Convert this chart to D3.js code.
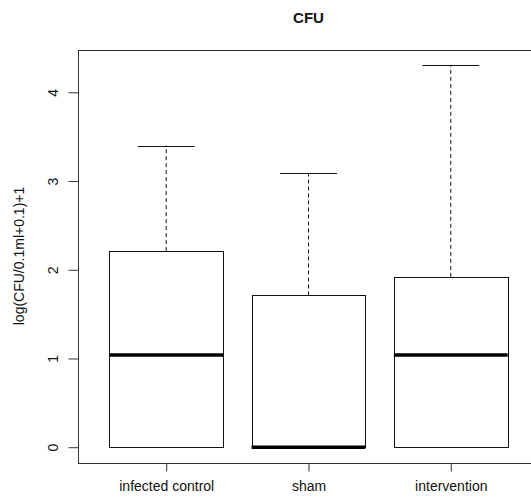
<!DOCTYPE html>
<html>
<head>
<meta charset="utf-8">
<script src="https://cdn.jsdelivr.net/npm/d3@7"></script>
<style>
  html, body { margin: 0; padding: 0; background: #fff; }
  svg { display: block; font-family: "Liberation Sans", Arial, sans-serif; }
</style>
</head>
<body>
<svg id="chart" width="531" height="497"></svg>
<script>
// Groups and five-number summaries of log(CFU/0.1ml+0.1)+1
const categories = ["infected control", "sham", "intervention"];
const whiskerLow = [0, 0, 0];
const quartile1  = [0, 0, 0];
const medians    = [1.04, 0, 1.04];
const quartile3  = [2.21, 1.71, 1.92];
const whiskerHigh = [3.40, 3.09, 4.31];
const yTicks = [0, 1, 2, 3, 4];
const titleText = "CFU";
const yLabel = "log(CFU/0.1ml+0.1)+1";

const svg = d3.select("#chart");
const plot = { left: 78, right: 539, top: 49.5, bottom: 462.5 };

// base-graphics style ranges: 4% padding on both axes
const xLo = 0.5, xHi = categories.length + 0.5;
const xPad = (xHi - xLo) * 0.04;
const x = d3.scaleLinear().domain([xLo - xPad, xHi + xPad]).range([plot.left, plot.right]);

const yMin = d3.min(whiskerLow), yMax = d3.max(whiskerHigh);
const yPad = (yMax - yMin) * 0.04;
const y = d3.scaleLinear().domain([yMin - yPad, yMax + yPad]).range([plot.bottom, plot.top]);

const boxes = categories.map((c, i) => ({
  name: c, pos: i + 1,
  lo: whiskerLow[i], q1: quartile1[i], med: medians[i], q3: quartile3[i], hi: whiskerHigh[i]
}));

const halfBox = 0.4, halfCap = 0.2;
const ink = "#111";

const g = svg.append("g");

// whiskers (dashed) and staples
boxes.forEach(b => {
  const gb = g.append("g");
  gb.append("line")
    .attr("x1", x(b.pos)).attr("x2", x(b.pos))
    .attr("y1", y(b.q3)).attr("y2", y(b.hi))
    .attr("stroke", ink).attr("stroke-width", 1).attr("stroke-dasharray", "4,3");
  gb.append("line")
    .attr("x1", x(b.pos)).attr("x2", x(b.pos))
    .attr("y1", y(b.q1)).attr("y2", y(b.lo))
    .attr("stroke", ink).attr("stroke-width", 1).attr("stroke-dasharray", "4,3");
  [b.hi, b.lo].forEach(v => {
    gb.append("line")
      .attr("x1", x(b.pos - halfCap)).attr("x2", x(b.pos + halfCap))
      .attr("y1", Math.round(y(v)) + 0.5).attr("y2", Math.round(y(v)) + 0.5)
      .attr("stroke", ink).attr("stroke-width", 1);
  });
  // box
  gb.append("rect")
    .attr("x", Math.round(x(b.pos - halfBox)) + 0.5)
    .attr("y", Math.round(y(b.q3)) + 0.5)
    .attr("width", Math.round(x(b.pos + halfBox)) - Math.round(x(b.pos - halfBox)))
    .attr("height", Math.round(y(b.q1)) - Math.round(y(b.q3)))
    .attr("fill", "#fff").attr("stroke", ink).attr("stroke-width", 1);
  // median
  gb.append("line")
    .attr("x1", x(b.pos - halfBox)).attr("x2", x(b.pos + halfBox))
    .attr("y1", y(b.med)).attr("y2", y(b.med))
    .attr("stroke", "#000").attr("stroke-width", 3.5);
});

// frame around plotting region
svg.append("rect")
  .attr("x", plot.left + 0.5).attr("y", Math.round(plot.top) + 0.5)
  .attr("width", plot.right - plot.left).attr("height", Math.round(plot.bottom) - Math.round(plot.top))
  .attr("fill", "none").attr("stroke", "#333").attr("stroke-width", 1);

// y axis
const yAxis = d3.axisLeft(y).tickValues(yTicks).tickFormat(d3.format("d")).tickSize(10).tickPadding(0);
const ya = svg.append("g").attr("transform", `translate(${plot.left + 0.5},0)`).call(yAxis);
ya.select(".domain").remove();
ya.selectAll(".tick line").attr("stroke", "#333");
ya.selectAll(".tick text")
  .attr("font-size", 14).attr("fill", "#111")
  .attr("x", null).attr("dy", null)
  .attr("text-anchor", "middle")
  .attr("transform", "translate(-21,0) rotate(-90)")
  .attr("y", 0);

// x axis
const xAxis = d3.axisBottom(x).tickValues(boxes.map(b => b.pos))
  .tickFormat((d, i) => categories[i]).tickSize(8).tickPadding(10);
const xa = svg.append("g").attr("transform", `translate(0,${Math.round(plot.bottom) + 0.5})`).call(xAxis);
xa.select(".domain").remove();
xa.selectAll(".tick line").attr("stroke", "#333");
xa.selectAll(".tick text").attr("font-size", 14).attr("fill", "#111");

// title
svg.append("text")
  .attr("x", (plot.left + plot.right) / 2).attr("y", 23)
  .attr("text-anchor", "middle").attr("font-size", 15).attr("font-weight", "bold")
  .attr("fill", "#111").text(titleText);

// y label
svg.append("text")
  .attr("transform", `translate(24,${(plot.top + plot.bottom) / 2}) rotate(-90)`)
  .attr("text-anchor", "middle").attr("font-size", 14).attr("fill", "#111")
  .text(yLabel);
</script>
</body>
</html>
